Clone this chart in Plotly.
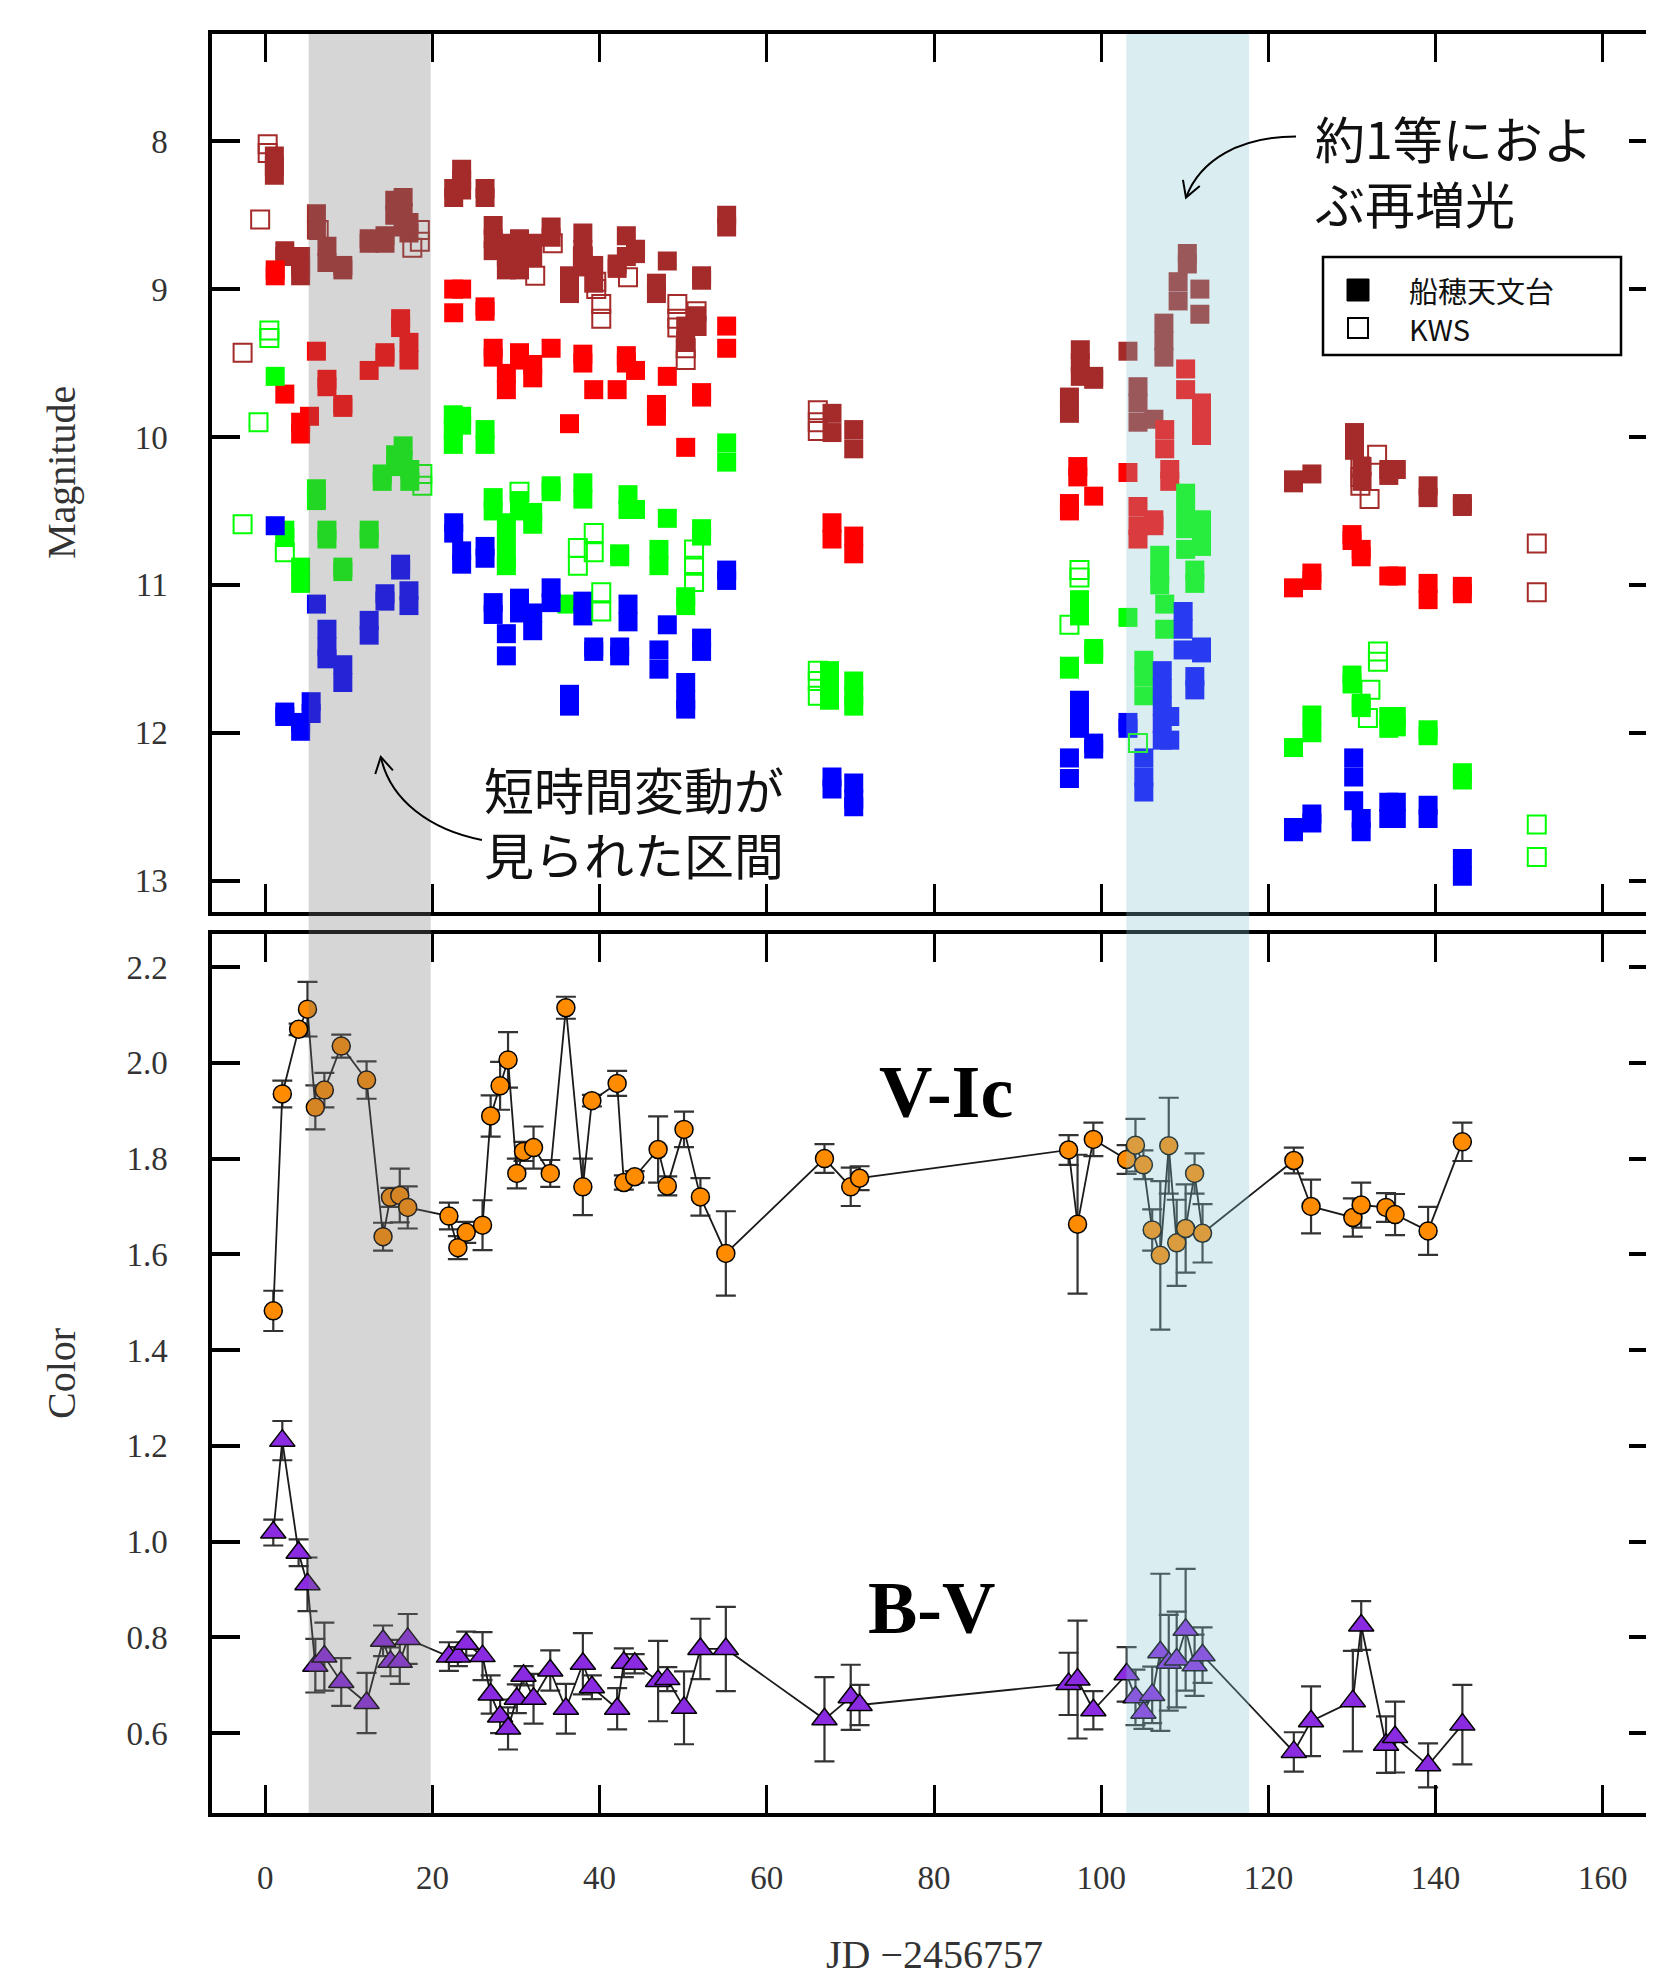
import plotly.graph_objects as go

# ---------------- data ----------------
# Photometry: JD-2456757 and magnitude, Funaho observatory (filled) and KWS (open)
ic_x = [1.1, 1.1, 1.1, 2.35, 2.35, 4.24, 4.24, 4.24, 6.13, 6.13, 7.39, 7.39, 9.29, 9.29,
        12.44, 12.44, 14.33, 14.33, 15.5, 15.5, 16.5, 16.5, 16.5, 17.2, 17.2,
        22.55, 22.55, 23.5, 23.5, 23.5, 26.3, 26.3, 27.27, 27.27, 27.27, 28.85, 28.85, 28.85,
        30.42, 30.42, 30.42, 32.0, 32.0, 34.2, 34.2, 36.4, 36.4, 38.0, 38.0, 38.0, 39.3, 39.3,
        42.1, 42.1, 43.2, 43.2, 44.3, 44.3, 46.8, 46.8, 48.1, 50.3, 50.3, 51.6, 51.6, 52.2, 52.2,
        55.2, 55.2, 67.8, 67.8, 70.4, 70.4,
        96.2, 96.2, 97.5, 97.5, 97.5, 99.1, 99.1, 103.2, 104.4, 104.4, 104.4, 106.3,
        107.5, 107.5, 107.5, 109.2, 109.2, 110.3, 110.3, 111.8, 111.8,
        123.0, 123.0, 125.2, 130.3, 130.3, 131.2, 131.2, 134.4, 134.4, 135.3, 139.1, 139.1, 143.2, 143.2]
ic_y = [8.10, 8.17, 8.23, 8.74, 8.78, 8.78, 8.85, 8.91, 8.49, 8.60, 8.71, 8.82, 8.84, 8.87,
        8.66, 8.69, 8.64, 8.69, 8.40, 8.50, 8.38, 8.48, 8.58, 8.55, 8.62,
        8.32, 8.38, 8.19, 8.26, 8.33, 8.32, 8.38, 8.57, 8.66, 8.74, 8.69, 8.78, 8.87,
        8.66, 8.76, 8.87, 8.69, 8.78, 8.58, 8.65, 8.91, 9.03, 8.62, 8.73, 8.85, 8.84, 8.96,
        8.83, 8.86, 8.64, 8.78, 8.73, 8.76, 8.96, 9.03, 8.81, 9.25, 9.35, 9.18, 9.25, 8.91, 8.94,
        8.50, 8.58, 9.84, 9.97, 9.95, 10.08,
        9.73, 9.84, 9.41, 9.50, 9.59, 9.59, 9.61, 9.42, 9.66, 9.77, 9.90, 9.88,
        9.23, 9.35, 9.46, 8.95, 9.08, 8.76, 8.83, 9.00, 9.17,
        10.29, 10.31, 10.25, 9.97, 10.09, 10.20, 10.30, 10.22, 10.26, 10.22, 10.33, 10.41, 10.45, 10.47]

ic_kws_x = [-2.7, -0.6, 0.3, 0.3, 6.4, 17.6, 18.5, 18.5, 32.3, 34.4, 38.0, 39.6, 39.6, 40.2, 40.2,
            43.4, 49.3, 49.3, 49.3, 50.3, 50.3, 51.6, 51.6, 66.1, 66.1, 66.1,
            131.0, 131.0, 131.0, 132.1, 133.0, 152.1, 152.1]
ic_kws_y = [9.43, 8.53, 8.02, 8.08, 8.60, 8.72, 8.60, 8.68, 8.91, 8.69, 8.78, 8.95, 9.00, 9.10, 9.20,
            8.92, 9.10, 9.20, 9.26, 9.40, 9.48, 9.15, 9.25, 9.82, 9.90, 9.96,
            10.20, 10.27, 10.33, 10.42, 10.12, 10.72, 11.05]

rc_x = [1.2, 1.2, 2.35, 4.24, 4.24, 5.3, 6.13, 7.39, 7.39, 9.29, 9.29, 12.44, 14.33, 14.33,
        16.2, 16.2, 17.2, 17.2, 22.55, 22.55, 23.5, 26.3, 26.3, 27.27, 27.27, 28.85, 28.85,
        30.42, 30.42, 32.0, 32.0, 34.2, 36.4, 38.0, 38.0, 39.3, 42.1, 43.2, 43.2, 44.3,
        46.8, 46.8, 48.1, 50.3, 52.2, 52.2, 55.2, 55.2, 67.8, 67.8, 70.4, 70.4,
        96.2, 96.2, 97.2, 97.2, 99.1, 103.2, 104.4, 104.4, 104.4, 106.3, 106.3, 107.6, 107.6,
        108.2, 108.2, 110.1, 110.1, 112.0, 112.0, 112.0,
        123.0, 125.2, 125.2, 130.0, 130.0, 131.1, 131.1, 134.4, 135.3, 139.1, 139.1, 143.2, 143.2]
rc_y = [8.87, 8.91, 9.71, 9.90, 9.98, 9.86, 9.42, 9.61, 9.66, 9.78, 9.80, 9.55, 9.43, 9.46,
        9.20, 9.26, 9.36, 9.48, 9.00, 9.16, 9.00, 9.12, 9.15, 9.40, 9.46, 9.57, 9.68,
        9.43, 9.48, 9.51, 9.60, 9.40, 9.91, 9.44, 9.50, 9.68, 9.68, 9.45, 9.50, 9.55,
        9.78, 9.86, 9.59, 10.07, 9.70, 9.73, 9.25, 9.40, 10.58, 10.69, 10.67, 10.79,
        10.45, 10.50, 10.20, 10.27, 10.40, 10.24, 10.47, 10.60, 10.69, 10.56, 10.60, 9.95, 10.08,
        10.22, 10.30, 9.54, 9.68, 9.77, 9.88, 9.99,
        11.02, 10.92, 10.97, 10.66, 10.70, 10.76, 10.81, 10.94, 10.94, 10.99, 11.10, 11.01, 11.06]

v_x = [1.2, 2.35, 2.35, 4.24, 4.24, 6.13, 6.13, 7.39, 7.39, 9.29, 9.29, 12.44, 12.44,
       14.0, 14.0, 15.6, 15.6, 16.5, 16.5, 17.3, 17.3, 22.5, 22.5, 22.5, 23.5, 23.5, 26.3, 26.3,
       27.27, 27.27, 28.85, 28.85, 28.85, 28.85, 30.42, 30.42, 32.0, 32.0, 34.2, 34.2, 36.1,
       38.0, 38.0, 42.4, 42.4, 43.4, 43.4, 44.3, 47.1, 47.1, 48.1, 50.3, 50.3, 52.2, 52.2,
       55.2, 55.2, 67.5, 67.5, 67.5, 70.4, 70.4, 70.4,
       96.2, 96.2, 97.4, 97.4, 99.1, 99.1, 103.2, 105.1, 105.1, 105.1, 107.0, 107.0, 107.0,
       107.6, 107.6, 110.1, 110.1, 110.1, 110.1, 111.2, 111.2, 112.0, 112.0, 112.0,
       123.0, 125.2, 125.2, 130.0, 130.0, 131.1, 131.1, 134.4, 134.4, 135.3, 135.3,
       139.1, 139.1, 143.2, 143.2]
v_y = [9.59, 10.63, 10.68, 10.88, 10.99, 10.35, 10.43, 10.63, 10.69, 10.88, 10.91, 10.63, 10.69,
       10.25, 10.30, 10.12, 10.20, 10.06, 10.16, 10.22, 10.30, 9.85, 9.95, 10.05, 9.86, 9.92, 9.95, 10.05,
       10.41, 10.50, 10.58, 10.70, 10.82, 10.87, 10.43, 10.50, 10.51, 10.59, 10.33, 10.37, 11.13,
       10.31, 10.42, 10.79, 10.81, 10.39, 10.49, 10.49, 10.76, 10.87, 10.55, 11.08, 11.14, 10.62, 10.67,
       10.04, 10.17, 11.58, 11.70, 11.78, 11.65, 11.75, 11.82,
       11.55, 11.57, 11.10, 11.21, 11.43, 11.47, 11.22, 11.51, 11.62, 11.75, 10.80, 10.92, 11.00,
       11.13, 11.30, 10.38, 10.50, 10.62, 10.76, 10.90, 10.99, 10.56, 10.66, 10.74,
       12.10, 11.88, 12.00, 11.61, 11.67, 11.80, 11.83, 11.89, 11.97, 11.89, 11.96,
       11.98, 12.02, 12.27, 12.32]

v_kws_x = [-2.7, -0.8, 0.5, 0.5, 2.35, 18.8, 18.8, 30.42, 37.4, 37.4, 39.3, 39.3, 40.2, 40.2,
           51.3, 51.3, 51.3, 66.1, 66.1, 66.1, 96.2, 97.4, 97.4, 104.4,
           131.9, 132.2, 133.1, 133.1, 152.1, 152.1]
v_kws_y = [10.59, 9.90, 9.28, 9.33, 10.78, 10.25, 10.33, 10.37, 10.75, 10.87, 10.65, 10.78, 11.05, 11.18,
           10.76, 10.87, 10.98, 11.58, 11.65, 11.75, 11.27, 10.90, 10.95, 12.07,
           11.90, 11.71, 11.45, 11.52, 12.62, 12.84]

b_x = [1.2, 2.35, 2.35, 4.24, 4.24, 5.5, 5.5, 6.13, 7.39, 7.39, 7.39, 9.29, 9.29, 12.44, 12.44,
       14.33, 14.33, 16.2, 16.2, 17.2, 17.2, 22.55, 22.55, 23.5, 23.5, 26.3, 26.3, 27.27, 27.27,
       28.85, 28.85, 30.42, 30.42, 32.0, 32.0, 34.2, 34.2, 36.4, 36.4, 38.0, 38.0, 39.3, 39.3,
       42.4, 42.4, 43.4, 43.4, 47.1, 47.1, 48.1, 50.3, 50.3, 50.3, 52.2, 52.2, 55.2, 55.2,
       67.8, 67.8, 70.4, 70.4, 70.4,
       96.2, 96.2, 97.4, 97.4, 97.4, 99.1, 99.1, 103.2, 103.2, 105.1, 105.1, 105.1,
       107.3, 107.3, 107.3, 107.3, 107.3, 108.2, 108.2, 109.8, 109.8, 109.8, 111.2, 111.2, 112.0, 112.0,
       123.0, 123.0, 125.2, 125.2, 130.2, 130.2, 130.2, 131.1, 131.1, 134.4, 134.4, 135.3, 135.3,
       139.1, 139.1, 143.2, 143.2]
b_y = [10.60, 11.86, 11.89, 11.93, 11.99, 11.79, 11.87, 11.13, 11.30, 11.42, 11.50, 11.54, 11.66, 11.24, 11.34,
       11.06, 11.11, 10.86, 10.90, 11.04, 11.14, 10.58, 10.65, 10.77, 10.86, 10.74, 10.82, 11.12, 11.20,
       11.33, 11.48, 11.09, 11.19, 11.19, 11.31, 11.02, 11.12, 11.74, 11.82, 11.11, 11.21, 11.42, 11.45,
       11.42, 11.48, 11.13, 11.25, 11.44, 11.57, 11.27, 11.66, 11.78, 11.84, 11.36, 11.45, 10.90, 10.97,
       12.30, 12.38, 12.34, 12.45, 12.50,
       12.17, 12.31, 11.78, 11.90, 11.97, 12.07, 12.11, 11.93, 11.97, 12.17, 12.30, 12.40,
       11.58, 11.70, 11.82, 11.94, 12.05, 11.89, 12.05, 11.18, 11.30, 11.44, 11.62, 11.71, 11.42, 11.46,
       12.64, 12.67, 12.55, 12.61, 12.17, 12.30, 12.46, 12.58, 12.67, 12.47, 12.58, 12.47, 12.58,
       12.49, 12.58, 12.85, 12.97]

# Colour indices
color_jd = [0.97, 2.05, 4.0, 5.06, 6.0, 7.08, 9.1, 12.13, 14.1, 14.98, 16.1, 17.05, 21.98, 23.05,
            24.05, 26.0, 26.97, 28.1, 29.05, 30.1, 30.9, 32.1, 34.1, 35.97, 38.0, 39.08, 42.1, 42.9,
            44.2, 47.0, 48.1, 50.1, 52.06, 55.1, 66.9, 70.04, 71.1, 96.1, 97.17, 99.06, 103.04,
            104.1, 105.05, 106.1, 107.07, 108.08, 109.03, 110.1, 111.17, 112.12, 123.04, 125.1,
            130.1, 131.1, 134.07, 135.15, 139.1, 143.2]
v_ic = [1.482, 1.935, 2.070, 2.112, 1.907, 1.943, 2.035, 1.964, 1.637, 1.719,
        1.723, 1.698, 1.680, 1.614, 1.646, 1.661, 1.889, 1.952, 2.006, 1.769,
        1.815, 1.823, 1.769, 2.115, 1.741, 1.921, 1.957, 1.750, 1.762, 1.819,
        1.743, 1.861, 1.720, 1.602, 1.800, 1.741, 1.759, 1.818, 1.663, 1.840,
        1.798, 1.828, 1.787, 1.651, 1.598, 1.827, 1.624, 1.654, 1.769, 1.644,
        1.796, 1.700, 1.677, 1.703, 1.698, 1.683, 1.649, 1.835]
v_ic_err = [0.042, 0.028, 0.012, 0.057, 0.046, 0.036, 0.024, 0.039, 0.029, 0.020,
            0.056, 0.044, 0.028, 0.024, 0.022, 0.052, 0.043, 0.050, 0.058, 0.031,
            0.020, 0.044, 0.028, 0.023, 0.059, 0.012, 0.026, 0.015, 0.012, 0.069,
            0.020, 0.037, 0.039, 0.088, 0.030, 0.040, 0.025, 0.031, 0.145, 0.035,
            0.030, 0.055, 0.030, 0.043, 0.155, 0.100, 0.090, 0.092, 0.042, 0.061,
            0.027, 0.056, 0.040, 0.047, 0.030, 0.043, 0.050, 0.040]
b_v = [1.019, 1.211, 0.977, 0.911, 0.741, 0.760, 0.707, 0.663, 0.793, 0.749,
       0.749, 0.797, 0.760, 0.760, 0.787, 0.761, 0.681, 0.635, 0.610, 0.672,
       0.720, 0.672, 0.731, 0.651, 0.745, 0.696, 0.651, 0.747, 0.745, 0.709,
       0.713, 0.653, 0.776, 0.776, 0.629, 0.675, 0.659, 0.703, 0.712, 0.648,
       0.723, 0.675, 0.643, 0.680, 0.769, 0.747, 0.754, 0.816, 0.742, 0.763,
       0.561, 0.625, 0.667, 0.825, 0.576, 0.592, 0.533, 0.618]
b_v_err = [0.027, 0.041, 0.028, 0.056, 0.056, 0.071, 0.050, 0.063, 0.032, 0.030,
           0.046, 0.052, 0.030, 0.020, 0.025, 0.050, 0.040, 0.035, 0.044, 0.030,
           0.020, 0.052, 0.042, 0.052, 0.064, 0.025, 0.043, 0.030, 0.020, 0.084,
           0.025, 0.076, 0.063, 0.088, 0.088, 0.068, 0.042, 0.065, 0.123, 0.040,
           0.057, 0.058, 0.034, 0.059, 0.164, 0.100, 0.100, 0.127, 0.064, 0.058,
           0.041, 0.073, 0.105, 0.051, 0.059, 0.074, 0.046, 0.083]

x_tick_vals = [0, 20, 40, 60, 80, 100, 120, 140, 160]
mag_tick_vals = [8, 9, 10, 11, 12, 13]
color_tick_vals = [0.6, 0.8, 1.0, 1.2, 1.4, 1.6, 1.8, 2.0, 2.2]
color_tick_text = ["0.6", "0.8", "1.0", "1.2", "1.4", "1.6", "1.8", "2.0", "2.2"]

short_var_band = [5.2, 19.8]        # 短時間変動が見られた区間
rebrightening_band = [103.0, 117.7]  # 約1等におよぶ再増光

# ---------------- layout constants ----------------
# The page body has an 8 px default margin, so the figure is offset by 8 px
# inside the browser window; margins below compensate for that.
W, H = 1654, 1979
PAGE_OFF = 8
ML, MR, MT, MB = 204, 5, 26, 174
PLOT_H = H - MT - MB
PLOT_W = W - ML - MR


def paper_x(px):   # px: position in the browser window
    return (px - PAGE_OFF - ML) / PLOT_W


def paper_y(py):
    return (H - MB - (py - PAGE_OFF)) / PLOT_H


SERIF = "Liberation Serif"
GOTHIC = "Noto Sans CJK JP"
BROWN, RED, GREEN, BLUE = "#a52a2a", "#ff0000", "#00ff00", "#0000ff"
MS = 19

fig = go.Figure()

for xs, ys, col in [(ic_x, ic_y, BROWN), (rc_x, rc_y, RED), (v_x, v_y, GREEN), (b_x, b_y, BLUE)]:
    fig.add_trace(go.Scatter(x=xs, y=ys, mode="markers", xaxis="x", yaxis="y", showlegend=False,
                             marker=dict(symbol="square", size=MS, color=col, line=dict(width=0))))
for xs, ys, col in [(ic_kws_x, ic_kws_y, BROWN), (v_kws_x, v_kws_y, GREEN)]:
    fig.add_trace(go.Scatter(x=xs, y=ys, mode="markers", xaxis="x", yaxis="y", showlegend=False,
                             marker=dict(symbol="square-open", size=MS - 1, color=col,
                                         line=dict(width=2, color=col))))

err_style = dict(type="data", visible=True, color="#333333", thickness=2.2, width=10)
fig.add_trace(go.Scatter(x=color_jd, y=v_ic, mode="lines+markers", xaxis="x2", yaxis="y2",
                         showlegend=False, line=dict(color="#1a1a1a", width=1.8),
                         error_y=dict(array=v_ic_err, **err_style),
                         marker=dict(symbol="circle", size=18, color="#ff8c00",
                                     line=dict(color="black", width=1.5))))
fig.add_trace(go.Scatter(x=color_jd, y=b_v, mode="lines+markers", xaxis="x2", yaxis="y2",
                         showlegend=False, line=dict(color="#1a1a1a", width=1.8),
                         error_y=dict(array=b_v_err, **err_style),
                         marker=dict(symbol="triangle-up", size=22, color="#8a2be2",
                                     line=dict(color="black", width=1.5))))
# anchors for the right-hand tick axes
fig.add_trace(go.Scatter(x=[None], y=[None], xaxis="x", yaxis="y3", showlegend=False, hoverinfo="skip"))
fig.add_trace(go.Scatter(x=[None], y=[None], xaxis="x2", yaxis="y4", showlegend=False, hoverinfo="skip"))

x_range = [-6.36, 166.48]
mag_range = [13.21, 7.275]
col_range = [0.4334, 2.269]
top_dom = [paper_y(911.7), 1]
bot_dom = [0, paper_y(934)]

tickfont = dict(family=SERIF, size=33, color="#333333")
common_x = dict(range=x_range, tickvals=x_tick_vals, ticks="inside", ticklen=28, tickwidth=3,
                tickcolor="black", showline=True, linewidth=3.5, linecolor="black",
                mirror="ticks", showgrid=False, zeroline=False, tickfont=tickfont, automargin=False)
common_y = dict(ticks="inside", ticklen=28, tickwidth=3.5, tickcolor="black", showline=True,
                linewidth=3.5, linecolor="black", showgrid=False, zeroline=False,
                tickfont=tickfont, ticklabelstandoff=34, automargin=False)
right_y = dict(ticks="inside", ticklen=28, tickwidth=3.5, tickcolor="black", showline=False,
               showticklabels=False, showgrid=False, zeroline=False, side="right", automargin=False)

fig.update_layout(
    width=W, height=H, margin=dict(l=ML, r=MR, t=MT, b=MB, autoexpand=False),
    paper_bgcolor="white", plot_bgcolor="white", showlegend=False,
    xaxis=dict(domain=[0, 1], anchor="y", showticklabels=False, **common_x),
    xaxis2=dict(domain=[0, 1], anchor="y2", matches="x", showticklabels=True,
                ticklabelstandoff=33, **common_x),
    yaxis=dict(domain=top_dom, anchor="x", range=mag_range, tickvals=mag_tick_vals, **common_y),
    yaxis2=dict(domain=bot_dom, anchor="x2", range=col_range, tickvals=color_tick_vals,
                ticktext=color_tick_text, **common_y),
    yaxis3=dict(overlaying="y", anchor="x", range=mag_range, tickvals=mag_tick_vals, **right_y),
    yaxis4=dict(overlaying="y2", anchor="x2", range=col_range, tickvals=color_tick_vals, **right_y),
)

shapes = []
# shaded intervals, spanning both panels, drawn semi-transparent on top of the data
shapes.append(dict(type="rect", xref="x", yref="paper", x0=short_var_band[0], x1=short_var_band[1],
                   y0=0, y1=1, fillcolor="rgba(118,118,118,0.3)", line=dict(width=0), layer="above"))
shapes.append(dict(type="rect", xref="x", yref="paper", x0=rebrightening_band[0], x1=rebrightening_band[1],
                   y0=0, y1=1, fillcolor="rgba(132,195,205,0.3)", line=dict(width=0), layer="above"))
# curved annotation arrows (data units of the magnitude panel)
arrow_line = dict(color="black", width=2)
shapes.append(dict(type="path", xref="x", yref="y", layer="above", line=arrow_line,
                   path="M 123.3,7.968 C 116.6,7.968 111.82,8.124 110.14,8.381"))
shapes.append(dict(type="path", xref="x", yref="y", layer="above", line=arrow_line,
                   path="M 111.79,8.303 L 110.14,8.381 L 109.78,8.261"))
shapes.append(dict(type="path", xref="x", yref="y", layer="above", line=arrow_line,
                   path="M 25.93,12.725 C 19.71,12.657 14.93,12.454 13.83,12.163"))
shapes.append(dict(type="path", xref="x", yref="y", layer="above", line=arrow_line,
                   path="M 13.17,12.279 L 13.83,12.163 L 15.28,12.254"))
# legend box
shapes.append(dict(type="rect", xref="paper", yref="paper", x0=paper_x(1323), x1=paper_x(1621),
                   y0=paper_y(355), y1=paper_y(257), fillcolor="white",
                   line=dict(color="black", width=2.5), layer="above"))
shapes.append(dict(type="rect", xref="paper", yref="paper", x0=paper_x(1347), x1=paper_x(1369),
                   y0=paper_y(301), y1=paper_y(279), fillcolor="black",
                   line=dict(color="black", width=1), layer="above"))
shapes.append(dict(type="rect", xref="paper", yref="paper", x0=paper_x(1348), x1=paper_x(1368),
                   y0=paper_y(338), y1=paper_y(318), fillcolor="white",
                   line=dict(color="black", width=2), layer="above"))

annotations = [
    dict(text="Magnitude", xref="paper", yref="paper", x=paper_x(61), y=paper_y(473),
         textangle=-90, showarrow=False, xanchor="center", yanchor="middle",
         font=dict(family=SERIF, size=40, color="#333333")),
    dict(text="Color", xref="paper", yref="paper", x=paper_x(61), y=paper_y(1374),
         textangle=-90, showarrow=False, xanchor="center", yanchor="middle",
         font=dict(family=SERIF, size=40, color="#333333")),
    dict(text="JD \u22122456757", xref="paper", yref="paper", x=paper_x(934), y=paper_y(1955),
         showarrow=False, xanchor="center", yanchor="middle",
         font=dict(family=SERIF, size=40, color="#333333")),
    dict(text="<b>V-Ic</b>", xref="x2", yref="y2", x=81.45, y=1.94, showarrow=False,
         xanchor="center", yanchor="middle", font=dict(family=SERIF, size=74, color="black")),
    dict(text="<b>B-V</b>", xref="x2", yref="y2", x=79.75, y=0.861, showarrow=False,
         xanchor="center", yanchor="middle", font=dict(family=SERIF, size=74, color="black")),
    dict(text="約1等におよ<br>ぶ再増光", xref="x", yref="y", x=125.3, y=8.188, showarrow=False,
         xanchor="left", yanchor="middle", align="left",
         font=dict(family=GOTHIC, size=50, color="#111111")),
    dict(text="短時間変動が<br>見られた区間", xref="x", yref="y", x=25.99, y=12.594, showarrow=False,
         xanchor="left", yanchor="middle", align="left",
         font=dict(family=GOTHIC, size=50, color="#111111")),
    dict(text="船穂天文台", xref="paper", yref="paper", x=paper_x(1407), y=paper_y(290),
         showarrow=False, xanchor="left", yanchor="middle",
         font=dict(family=GOTHIC, size=29, color="#111111")),
    dict(text="KWS", xref="paper", yref="paper", x=paper_x(1407), y=paper_y(328),
         showarrow=False, xanchor="left", yanchor="middle",
         font=dict(family=GOTHIC, size=29, color="#111111")),
]

fig.update_layout(shapes=shapes, annotations=annotations)
fig.write_html("out.html")
